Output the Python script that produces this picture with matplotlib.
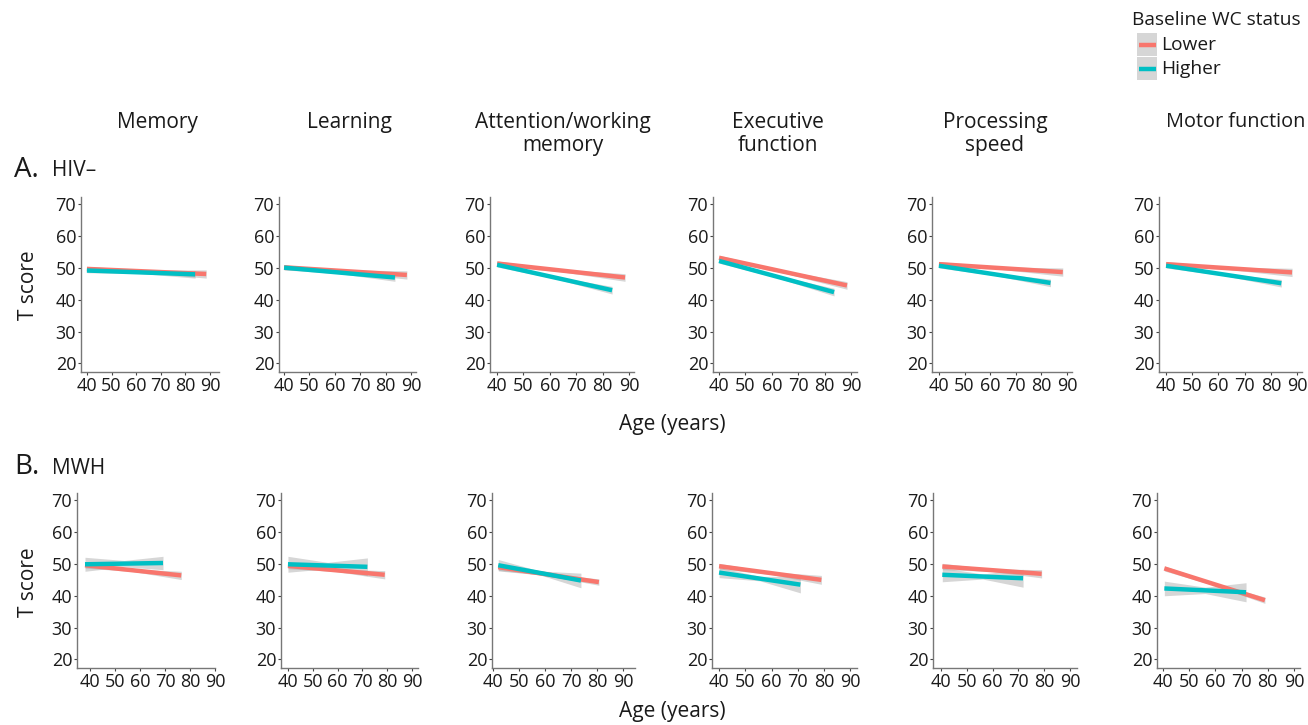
import matplotlib
matplotlib.use("Agg")
import matplotlib.pyplot as plt
from matplotlib.patches import Rectangle
from matplotlib.lines import Line2D

plt.rcParams['font.family'] = ['Open Sans', 'DejaVu Sans']

# ---------------- data ----------------
domains = ["Memory", "Learning", "Attention/working\nmemory",
           "Executive\nfunction", "Processing\nspeed", "Motor function"]
group_labels = ["Lower", "Higher"]
x_ticks = [40, 50, 60, 70, 80, 90]
y_ticks = [20, 30, 40, 50, 60, 70]

# Row A: HIV-  (fitted-line start/end age, T score at start/end, CI half-width at start/middle/end)
hivneg_lower_age0 = [40, 40, 40, 40, 40, 40]
hivneg_lower_age1 = [88.5, 88.4, 88.5, 88.5, 88.4, 88.1]
hivneg_lower_t0 = [49.7, 50.2, 51.4, 53.2, 51.2, 51.2]
hivneg_lower_t1 = [48.1, 47.8, 47.0, 44.5, 48.7, 48.6]
hivneg_lower_ci = [(0.8, 0.4, 1.3), (0.8, 0.4, 1.3), (0.8, 0.4, 1.2),
                   (0.8, 0.4, 1.2), (0.8, 0.4, 1.3), (0.8, 0.4, 1.3)]

hivneg_higher_age0 = [40, 40, 40, 40, 40, 40]
hivneg_higher_age1 = [84.0, 83.7, 83.6, 83.6, 83.6, 84.0]
hivneg_higher_t0 = [49.2, 50.1, 51.0, 52.2, 50.7, 50.7]
hivneg_higher_t1 = [48.0, 47.0, 43.0, 42.4, 45.3, 45.2]
hivneg_higher_ci = [(0.7, 0.35, 1.2), (0.7, 0.35, 1.2), (0.7, 0.35, 1.2),
                    (0.7, 0.35, 1.2), (0.7, 0.35, 1.2), (0.7, 0.35, 1.2)]

# Row B: MWH
mwh_lower_age0 = [38.0, 40.0, 42.0, 40.0, 40.5, 40.5]
mwh_lower_age1 = [76.5, 79.0, 80.7, 79.0, 79.0, 78.9]
mwh_lower_t0 = [49.6, 49.4, 49.0, 49.3, 49.2, 48.6]
mwh_lower_t1 = [46.4, 46.6, 44.3, 45.0, 46.9, 38.6]
mwh_lower_ci = [(0.9, 0.4, 1.3), (0.9, 0.4, 1.3), (1.0, 0.4, 1.0),
                (0.9, 0.4, 1.4), (1.0, 0.4, 1.3), (0.8, 0.4, 1.0)]

mwh_higher_age0 = [38.0, 40.0, 42.0, 40.0, 40.5, 40.5]
mwh_higher_age1 = [69.2, 72.0, 73.8, 71.0, 71.8, 71.7]
mwh_higher_t0 = [49.9, 49.9, 49.6, 47.3, 46.6, 42.3]
mwh_higher_t1 = [50.3, 49.1, 44.8, 43.5, 45.5, 41.1]
mwh_higher_ci = [(2.2, 1.0, 2.1), (2.5, 1.0, 2.8), (1.8, 0.6, 2.3),
                 (1.6, 0.7, 2.6), (2.2, 0.8, 2.8), (2.3, 1.0, 3.0)]

# ---------------- layout ----------------
W, H = 1308, 725
fig = plt.figure(figsize=(W / 100, H / 100), dpi=100)

RED = "#F8766D"
TEAL = "#00BFC4"
BAND = "#999999"
TXT = "#1a1a1a"

rowA_lr = [(81, 219), (279, 416), (490, 634), (713, 857), (932, 1072), (1159, 1302)]
rowA_xlim = [(37.6, 93.7), (38.0, 92.0), (37.3, 91.9), (37.7, 92.3), (37.3, 92.0), (37.3, 91.9)]
rowB_lr = [(77, 215), (281, 418), (492, 635), (712, 857), (933, 1077), (1157, 1300)]
rowB_xlim = [(34.8, 90.0), (37.2, 92.4), (39.6, 94.6), (37.3, 92.6), (36.9, 92.7), (37.7, 92.3)]
rowA_tb = (197, 372)
rowB_tb = (493, 668)
YLIM = (17.3, 72.3)


def draw_group(ax, a0, a1, t0, t1, ci, color):
    am = (a0 + a1) / 2
    tm = (t0 + t1) / 2
    xs = [a0, am, a1]
    ys = [t0, tm, t1]
    lo = [y - w for y, w in zip(ys, ci)]
    hi = [y + w for y, w in zip(ys, ci)]
    ax.fill_between(xs, lo, hi, color=BAND, alpha=0.4, linewidth=0)
    ax.plot([a0, a1], [t0, t1], color=color, lw=3.2, solid_capstyle="butt")


rows = [
    (rowA_lr, rowA_xlim, rowA_tb,
     (hivneg_lower_age0, hivneg_lower_age1, hivneg_lower_t0, hivneg_lower_t1, hivneg_lower_ci),
     (hivneg_higher_age0, hivneg_higher_age1, hivneg_higher_t0, hivneg_higher_t1, hivneg_higher_ci)),
    (rowB_lr, rowB_xlim, rowB_tb,
     (mwh_lower_age0, mwh_lower_age1, mwh_lower_t0, mwh_lower_t1, mwh_lower_ci),
     (mwh_higher_age0, mwh_higher_age1, mwh_higher_t0, mwh_higher_t1, mwh_higher_ci)),
]

for lr_list, xlims, (top, bot), low, high in rows:
    for i in range(6):
        l, r = lr_list[i]
        ax = fig.add_axes([l / W, 1 - bot / H, (r - l) / W, (bot - top) / H])
        draw_group(ax, low[0][i], low[1][i], low[2][i], low[3][i], low[4][i], RED)
        draw_group(ax, high[0][i], high[1][i], high[2][i], high[3][i], high[4][i], TEAL)
        ax.set_xlim(*xlims[i])
        ax.set_ylim(*YLIM)
        ax.set_xticks(x_ticks)
        ax.set_yticks(y_ticks)
        for s in ("top", "right"):
            ax.spines[s].set_visible(False)
        for s in ("left", "bottom"):
            ax.spines[s].set_color("#777777")
            ax.spines[s].set_linewidth(1.0)
        ax.tick_params(length=2.5, width=0.8, color="#444444", labelsize=13,
                       labelcolor=TXT, pad=1)
        ax.patch.set_alpha(0)

# column titles
title_x = [157, 349, 563, 778, 995, 1236]
for tx, name in zip(title_x, domains):
    fs = 14.3 if name == "Motor function" else 15
    fig.text(tx / W, 1 - 112 / H, name, ha="center", va="top", fontsize=fs,
             color=TXT, linespacing=1.15)

# row labels
fig.text(14 / W, 1 - 170 / H, "A.", fontsize=20, color=TXT, va="center", ha="left")
fig.text(52 / W, 1 - 171 / H, "HIV\u2013", fontsize=15, color=TXT, va="center", ha="left")
fig.text(14 / W, 1 - 467 / H, "B.", fontsize=20, color=TXT, va="center", ha="left")
fig.text(52 / W, 1 - 468 / H, "MWH", fontsize=15, color=TXT, va="center", ha="left")

# axis titles
fig.text(672 / W, 1 - 425 / H, "Age (years)", fontsize=15, color=TXT, ha="center", va="center")
fig.text(672 / W, 1 - 712 / H, "Age (years)", fontsize=15, color=TXT, ha="center", va="center")
fig.text(28 / W, 1 - 285 / H, "T score", fontsize=15, color=TXT, ha="center", va="center", rotation=90)
fig.text(28 / W, 1 - 582 / H, "T score", fontsize=15, color=TXT, ha="center", va="center", rotation=90)

# legend (drawn as keys in figure pixel coordinates)
fig.text(1132 / W, 1 - 20 / H, "Baseline WC status", fontsize=13.8, color=TXT,
         ha="left", va="center")
key_colors = [RED, TEAL]
key_tops = [33, 57]
for lab, col, kt in zip(group_labels, key_colors, key_tops):
    kb = kt + 23
    fig.add_artist(Rectangle((1137 / W, 1 - kb / H), 20 / W, 23 / H,
                             transform=fig.transFigure, facecolor=BAND, alpha=0.4,
                             edgecolor="none"))
    ym = 1 - (kt + 11.5) / H
    fig.add_artist(Line2D([1138.5 / W, 1155.5 / W], [ym, ym], transform=fig.transFigure,
                          color=col, lw=3.2, solid_capstyle="butt"))
    fig.text(1161 / W, ym, lab, fontsize=13.8, color=TXT, ha="left", va="center")

fig.savefig("out.png", dpi=100)
